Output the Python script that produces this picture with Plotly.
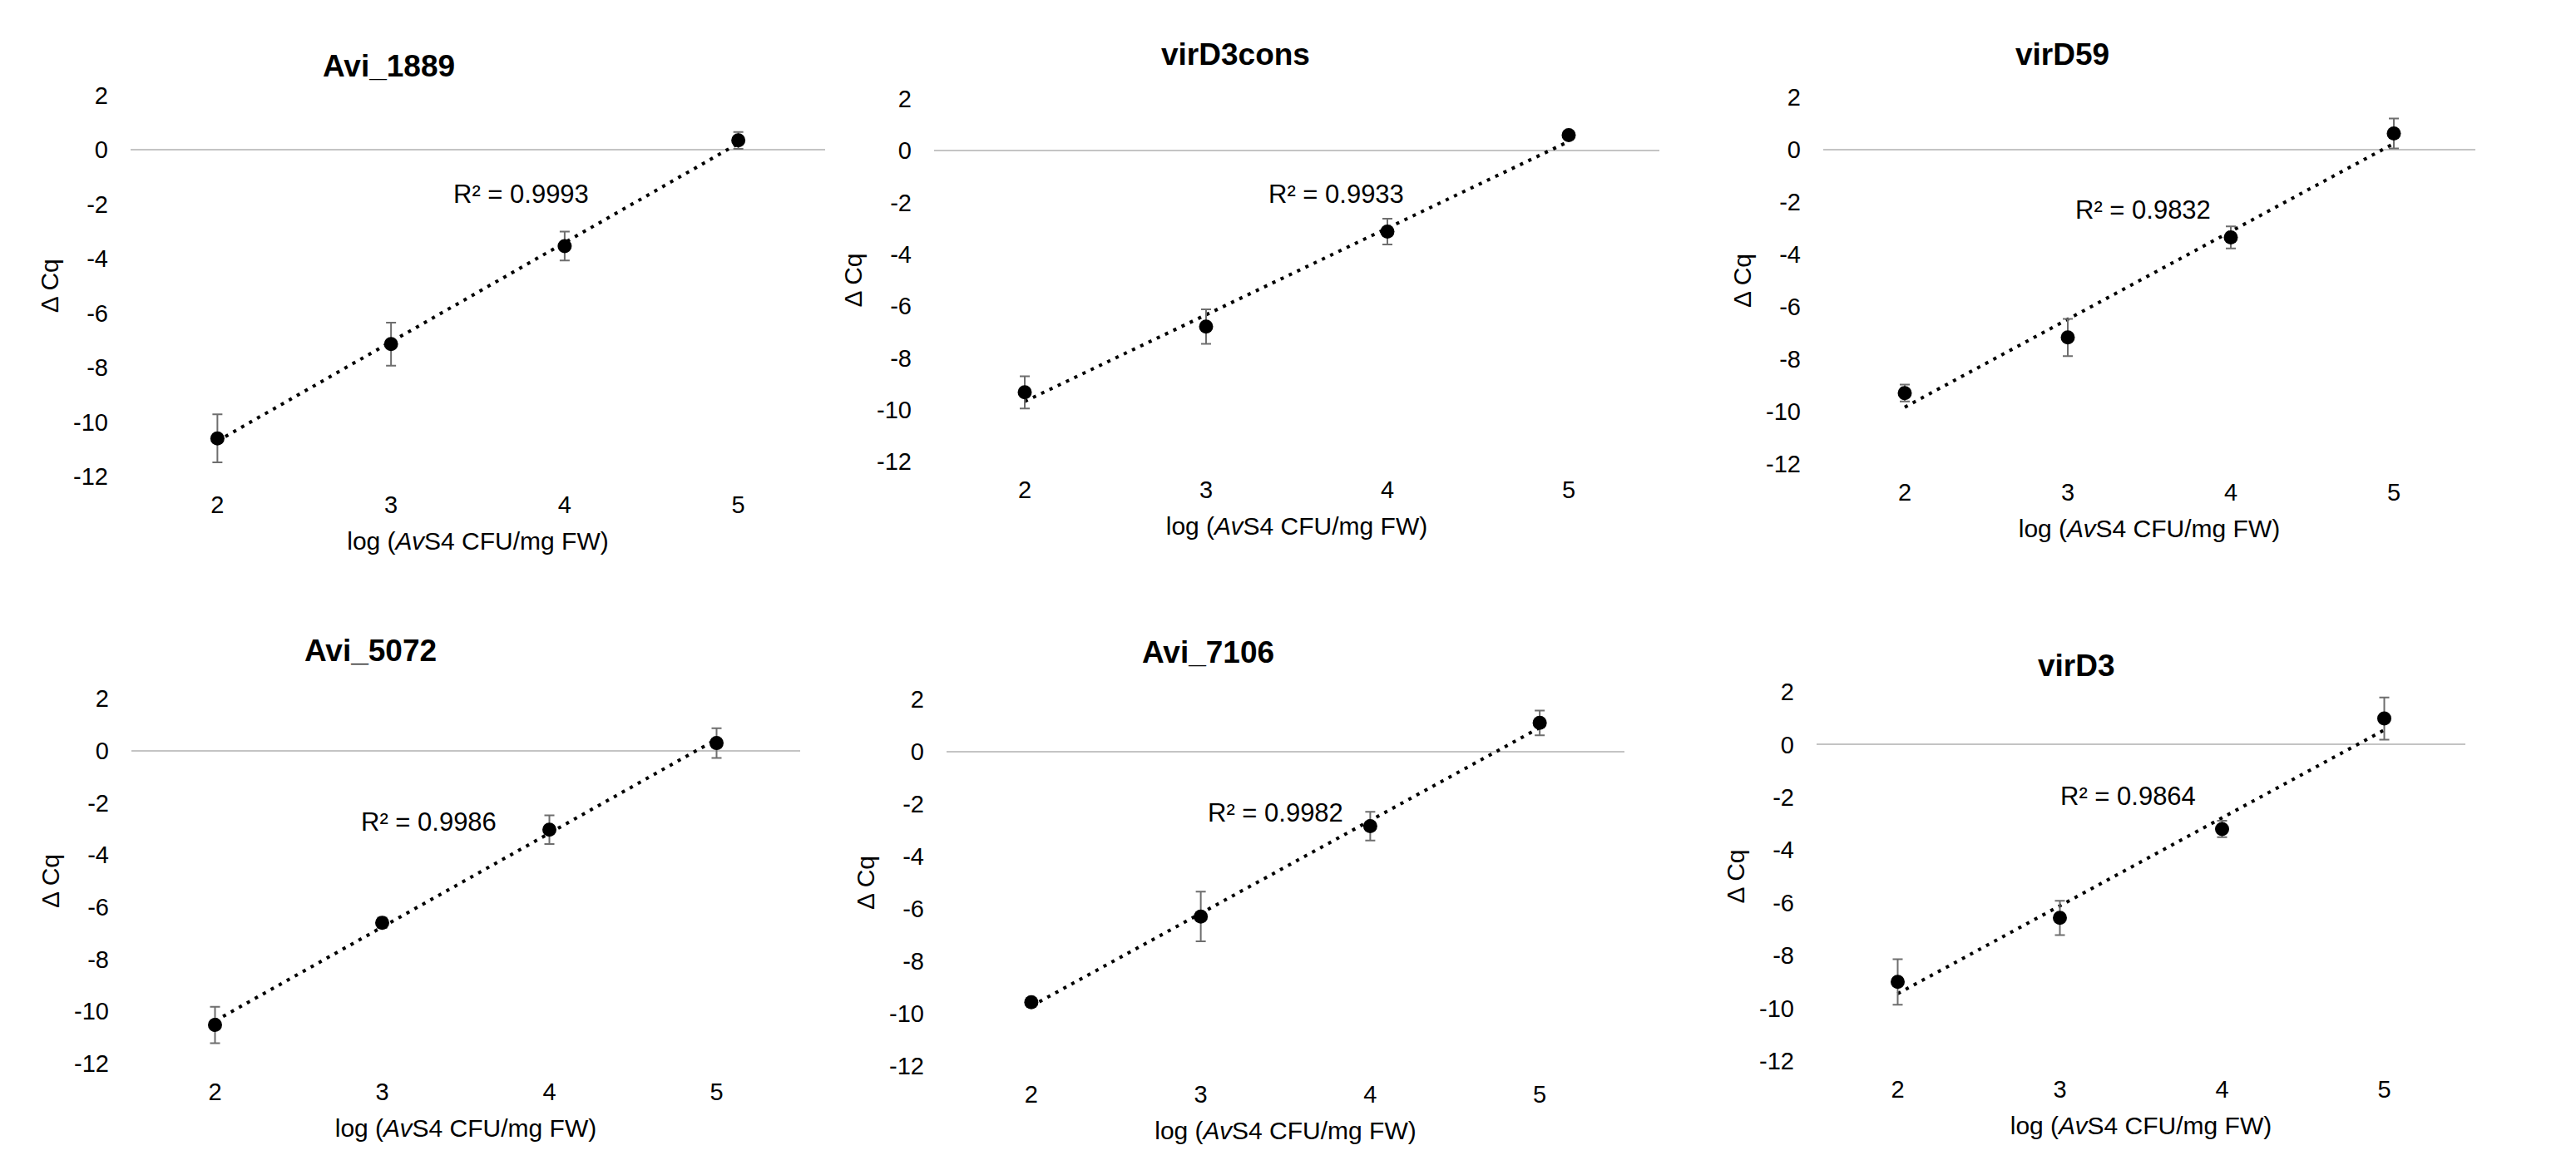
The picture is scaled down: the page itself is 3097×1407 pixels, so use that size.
import numpy as np
import plotly.graph_objects as go

# ---------------- data ----------------
log_cfu = [2, 3, 4, 5]
x_ticks = [2, 3, 4, 5]
y_ticks = [-12, -10, -8, -6, -4, -2, 0, 2]
y_tick_labels = ["-12", "-10", "-8", "-6", "-4", "-2", "0", "2"]

panel_titles = ["Avi_1889", "virD3cons", "virD59", "Avi_5072", "Avi_7106", "virD3"]

dcq_avi_1889 = [-10.60, -7.14, -3.54, 0.34]
err_avi_1889 = [0.88, 0.79, 0.53, 0.31]

dcq_virD3cons = [-9.33, -6.79, -3.12, 0.60]
err_virD3cons = [0.62, 0.67, 0.50, 0.05]

dcq_virD59 = [-9.29, -7.17, -3.35, 0.62]
err_virD59 = [0.32, 0.71, 0.42, 0.57]

dcq_avi_5072 = [-10.52, -6.60, -3.03, 0.29]
err_avi_5072 = [0.70, 0.20, 0.55, 0.57]

dcq_avi_7106 = [-9.56, -6.29, -2.84, 1.10]
err_avi_7106 = [0.05, 0.95, 0.55, 0.47]

dcq_virD3 = [-9.00, -6.57, -3.20, 0.99]
err_virD3 = [0.86, 0.65, 0.31, 0.80]

r2_values = ["0.9993", "0.9933", "0.9832", "0.9986", "0.9982", "0.9864"]

x_title = "log (<i>Av</i>S4 CFU/mg FW)"
y_title = "Δ Cq"

series = [
    (dcq_avi_1889, err_avi_1889),
    (dcq_virD3cons, err_virD3cons),
    (dcq_virD59, err_virD59),
    (dcq_avi_5072, err_avi_5072),
    (dcq_avi_7106, err_avi_7106),
    (dcq_virD3, err_virD3),
]

# ---------------- layout (pixels) ----------------
W, H = 3097, 1407
# plot boxes: left, right, top, bottom
boxes = [
    (157, 992, 114.5, 573),
    (1123, 1995, 119, 555),
    (2192, 2976, 117, 558),
    (158, 962, 840, 1279),
    (1138, 1953, 841, 1282),
    (2184, 2964, 832, 1276),
]
title_pos = [(467, 79), (1485, 66), (2479, 66), (445, 782), (1452, 784), (2496, 800)]
r2_pos = [(3.75, -1.62), (3.72, -1.67), (3.46, -2.30), (3.28, -2.74), (3.44, -2.32), (3.42, -1.97)]

FONT = "Liberation Sans, Arial, sans-serif"

fig = go.Figure()
layout = dict(
    width=W, height=H,
    margin=dict(l=0, r=0, t=0, b=0),
    paper_bgcolor="white", plot_bgcolor="white",
    showlegend=False,
    font=dict(family=FONT, color="black", size=29),
)
annotations = []

for i, ((ys, es), box) in enumerate(zip(series, boxes)):
    n = i + 1
    xa = "x" if n == 1 else f"x{n}"
    ya = "y" if n == 1 else f"y{n}"
    l, r, t, b = box

    # linear trendline from the data
    slope, intercept = np.polyfit(log_cfu, ys, 1)
    xs_fit = np.array([min(log_cfu), max(log_cfu)], dtype=float)
    fig.add_trace(go.Scatter(
        x=xs_fit, y=slope * xs_fit + intercept, mode="lines",
        line=dict(color="black", width=4, dash="4px,7px"),
        xaxis=xa, yaxis=ya, hoverinfo="skip",
    ))
    fig.add_trace(go.Scatter(
        x=log_cfu, y=ys, mode="markers",
        marker=dict(color="black", size=17),
        error_y=dict(type="data", array=es, visible=True,
                     color="#6e6e6e", thickness=2, width=6),
        xaxis=xa, yaxis=ya,
    ))

    layout[f"xaxis{'' if n == 1 else n}"] = dict(
        domain=[l / W, r / W], anchor=ya, range=[1.5, 5.5],
        tickvals=x_ticks, ticktext=[str(v) for v in x_ticks],
        showgrid=False, zeroline=False, showline=False,
        ticks="", ticklabelstandoff=14, automargin=False,
        tickfont=dict(size=29),
        title=dict(text=x_title, font=dict(size=30), standoff=17),
    )
    layout[f"yaxis{'' if n == 1 else n}"] = dict(
        domain=[1 - b / H, 1 - t / H], anchor=xa, range=[-12, 2],
        tickvals=y_ticks, ticktext=y_tick_labels, showgrid=False, zeroline=True,
        zerolinecolor="#c4c4c4", zerolinewidth=2, showline=False,
        ticks="", ticklabelstandoff=26, automargin=False,
        tickfont=dict(size=29),
        title=dict(text=y_title, font=dict(size=30), standoff=8),
    )

    tx, ty = title_pos[i]
    annotations.append(dict(
        x=tx / W, y=1 - ty / H, xref="paper", yref="paper",
        text=f"<b>{panel_titles[i]}</b>", showarrow=False,
        font=dict(size=37, family=FONT), xanchor="center", yanchor="middle",
    ))
    rx, ry = r2_pos[i]
    annotations.append(dict(
        x=rx, y=ry, xref=xa, yref=ya,
        text=f"R² = {r2_values[i]}", showarrow=False,
        font=dict(size=31, family=FONT), xanchor="center", yanchor="middle",
    ))

layout["annotations"] = annotations
fig.update_layout(**layout)
fig.write_html("out.html")
